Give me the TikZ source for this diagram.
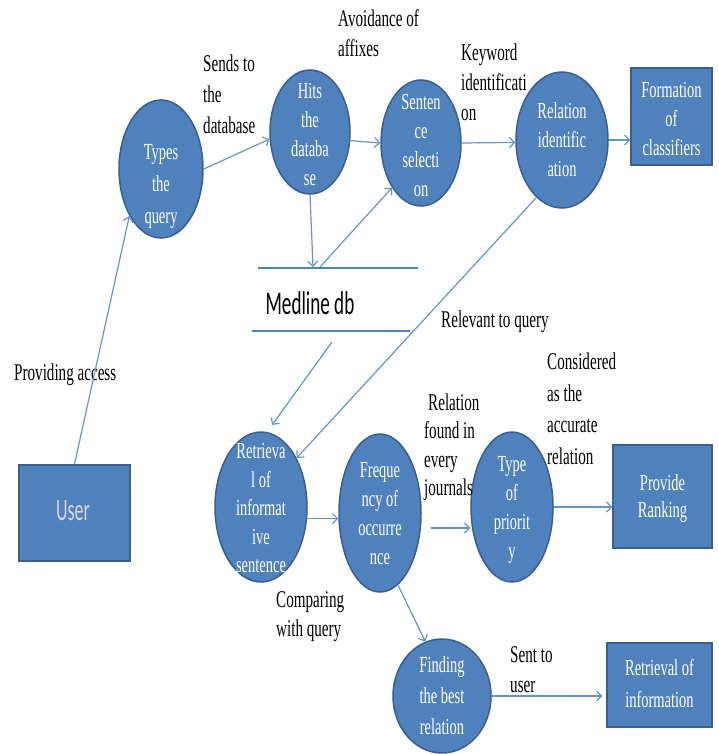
\documentclass[tikz,border=0pt]{standalone}
\usepackage{fontspec}
\setmainfont{Liberation Serif}
\newfontfamily\serifc[FakeStretch=0.63]{Liberation Serif}
\newfontfamily\sansc[FakeStretch=0.58]{Carlito}
\usetikzlibrary{shapes.geometric,arrows.meta,calc}
\newcommand\nfs[1]{\serifc\fontsize{23}{#1}\selectfont}
\newcommand\lfs[1]{\serifc\fontsize{24}{#1}\selectfont}
\definecolor{fillb}{RGB}{79,129,189}
\definecolor{edgeb}{RGB}{58,95,143}
\definecolor{arrb}{RGB}{100,148,208}
\definecolor{usertxt}{RGB}{215,215,215}
\begin{document}
\begin{tikzpicture}[x=1pt,y=-1pt,
 bub/.style={ellipse,draw=edgeb,fill=fillb,line width=1.5pt,inner sep=0pt},
 boxn/.style={rectangle,draw=edgeb,fill=fillb,line width=1.5pt,inner sep=0pt},
 wt/.style={text=white,align=center,inner sep=0pt},
 lbl/.style={align=left,anchor=west,inner sep=0pt,text=black},
 arr/.style={draw=arrb,line width=1.2pt,-{Straight Barb[length=5pt,width=10pt]}},
 dbline/.style={draw=fillb,line width=2pt}]
\useasboundingbox (0,0) rectangle (719,754);
% shapes
\node[bub,minimum width=84pt,minimum height=138pt] (types) at (161,169) {};
\node[bub,minimum width=80pt,minimum height=124pt] (hits) at (310,132) {};
\node[bub,minimum width=80pt,minimum height=126pt] (sent) at (421,143) {};
\node[bub,minimum width=92pt,minimum height=136pt] (rel) at (562,140) {};
\node[boxn,minimum width=81pt,minimum height=97pt] (form) at (671.5,116.5) {};
\node[bub,minimum width=92pt,minimum height=150pt] (ret) at (261,507) {};
\node[bub,minimum width=82pt,minimum height=158pt] (freq) at (380,513) {};
\node[bub,minimum width=82pt,minimum height=150pt] (typ) at (512,507) {};
\node[boxn,minimum width=99pt,minimum height=103pt] (prov) at (662.5,496.5) {};
\node[bub,minimum width=98pt,minimum height=114pt] (find) at (442,696) {};
\node[boxn,minimum width=105pt,minimum height=84pt] (rinfo) at (659.5,685) {};
\node[boxn,minimum width=111pt,minimum height=96pt,line width=2pt] (user) at (74.5,513) {};
% texts in shapes
\node[wt,font=\nfs{32}] (typest) at (161,186) {Types\\the\\query};
\node[wt,font=\nfs{29}] (hitst) at (310,134) {Hits\\the\\databa\\se};
\node[wt,font=\nfs{29}] (sentt) at (421,145) {Senten\\ce\\selecti\\on};
\node[wt,font=\nfs{29}] (relt) at (562,140) {Relation\\identific\\ation};
\node[wt,font=\nfs{29}] (formt) at (671.5,119) {Formation\\of\\classifiers};
\node[wt,font=\nfs{28.5}] (rett) at (261,508) {Retrieva\\l of\\informat\\ive\\sentence};
\node[wt,font=\nfs{29}] (freqt) at (380,514) {Freque\\ncy of\\occurre\\nce};
\node[wt,font=\nfs{29}] (typt) at (512,510) {Type\\of\\priorit\\y};
\node[wt,font=\nfs{27}] (provt) at (662.5,498) {Provide\\Ranking};
\node[wt,font=\nfs{31}] (findt) at (442,696) {Finding\\the best\\relation};
\node[wt,font=\nfs{32}] (rinfot) at (659.5,684) {Retrieval of\\information};
\node[inner sep=0pt,text=usertxt,font={\sansc\fontsize{31}{36}\selectfont}] (usert) at (73,511) {User};
% Medline data store
\coordinate (mtl) at (258,268);
\coordinate (mtr) at (418,268);
\coordinate (mbl) at (252,331);
\coordinate (mbr) at (410,331);
\draw[dbline] (mtl) -- (mtr);
\draw[dbline] (mbl) -- (mbr);
\node[inner sep=0pt,font={\sansc\fontsize{33}{38}\selectfont}] (med) at (310,303) {Medline db};
\coordinate (m1) at (313,267);
\coordinate (m2) at (320,267);
\coordinate (m3) at (332,342);
\coordinate (m4) at (272,425);
\coordinate (fq) at ($(freq.east)+(9,15)$);
% labels
\node[lbl,font=\lfs{31}] (l1) at (203,94) {Sends to\\the\\database};
\node[lbl,font=\lfs{30}] (l2) at (338,33) {Avoidance of\\affixes};
\node[lbl,font=\lfs{30}] (l3) at (461,82) {Keyword\\identificati\\on};
\node[lbl,font=\lfs{30}] (l4) at (441,322) {Relevant to query};
\node[lbl,font=\lfs{31.5}] (l5) at (547,409) {Considered\\as the\\accurate\\relation};
\node[lbl,font=\lfs{28.5}] (l6) at (424,447) {\hspace{4pt}Relation\\found in\\every\\journals};
\node[lbl,font=\lfs{29}] (l7) at (276,617) {Comparing\\with query};
\node[lbl,font=\lfs{30}] (l8) at (510,670) {Sent to\\user};
\node[lbl,font=\lfs{30}] (l9) at (14,375) {Providing access};
% connectors
\draw[arr] (user.north) -- (types.236);
\draw[arr] (types.east) -- (hits.190);
\draw[arr] (hits.-12) -- (sent.west);
\draw[arr] (sent.east) -- (rel.183);
\draw[arr] (rel.east) -- (rel.east -| form.west);
\draw[arr] (hits.south) -- (m1);
\draw[arr] (m2) -- (sent.237);
\draw[arr] (rel.246) -- (ret.54);
\draw[arr] (m3) -- (m4);
\draw[arr] (ret.-14) -- (ret.-14 -| freq.west);
\draw[arr] (fq) -- (fq -| typ.west);
\draw[arr] (typ.east) -- (typ.east -| prov.west);
\draw[arr] (freq.284) -- (find.107);
\draw[arr,shorten >=4pt] (find.east) -- (find.east -| rinfo.west);
\end{tikzpicture}
\end{document}
